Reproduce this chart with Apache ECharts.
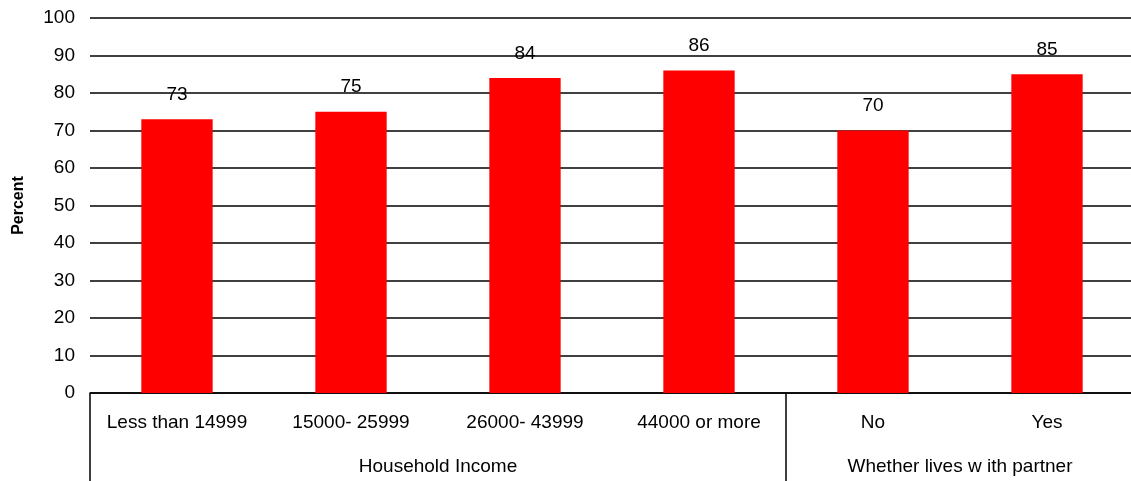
<!DOCTYPE html>
<html>
<head>
<meta charset="utf-8">
<title>Percent by household income and partner status</title>
<script src="https://cdn.jsdelivr.net/npm/echarts@6/dist/echarts.min.js"></script>
<style>
  html, body { margin: 0; padding: 0; background: #ffffff; }
  #chart { width: 1131px; height: 481px; }
</style>
</head>
<body>
<div id="chart"></div>
<script>
// Sub-categories along the bottom axis
const categories = ['Less than 14999', '15000- 25999', '26000- 43999', '44000 or more', 'No', 'Yes'];
// Percent for each sub-category
const values = [73, 75, 84, 86, 70, 85];
// Grouping row beneath the sub-categories
const groupNames = ['Household Income', 'Whether lives w ith partner'];
const groupSizes = [4, 2];
// Y-axis range and step
const yMin = 0, yMax = 100, yStep = 10;

// Group boundaries and centres, in category units
const groupEdges = [0];
groupSizes.forEach(n => groupEdges.push(groupEdges[groupEdges.length - 1] + n));
const groupCentres = groupSizes.map((n, i) => groupEdges[i] + n / 2);

const FONT = '"Liberation Sans", Arial, sans-serif';
const chart = echarts.init(document.getElementById('chart'), null, { renderer: 'canvas' });

chart.setOption({
  animation: false,
  backgroundColor: '#ffffff',
  // plot area runs a little past the right edge of the canvas
  grid: { left: 90, width: 1044, top: 18, bottom: 88, containLabel: false, outerBoundsMode: 'none' },
  xAxis: [
    {
      type: 'category',
      data: categories,
      position: 'bottom',
      axisLine: { show: true, lineStyle: { color: '#000', width: 1.5 } },
      axisTick: { show: false },
      axisLabel: { color: '#000', fontFamily: FONT, fontSize: 19, margin: 20, interval: 0 },
      splitLine: { show: false }
    },
    {
      type: 'value',
      min: 0,
      max: categories.length,
      position: 'bottom',
      axisLine: { show: false },
      // separators before each group; the closing edge lies off the right side
      axisTick: { show: true, customValues: groupEdges.slice(0, -1), length: 90, lineStyle: { color: '#000', width: 1.5 } },
      axisLabel: {
        show: true,
        customValues: groupCentres,
        margin: 64,
        color: '#000', fontFamily: FONT, fontSize: 19,
        formatter: v => groupNames[groupCentres.indexOf(v)] || ''
      },
      splitLine: { show: false }
    }
  ],
  yAxis: {
    type: 'value',
    min: yMin, max: yMax, interval: yStep,
    name: 'Percent',
    nameLocation: 'middle',
    nameRotate: 90,
    nameGap: 63,
    nameTextStyle: { color: '#000', fontFamily: FONT, fontSize: 16, fontWeight: 'bold' },
    axisLine: { show: false },
    axisTick: { show: false },
    axisLabel: { color: '#000', fontFamily: FONT, fontSize: 19, margin: 15 },
    splitLine: { show: true, lineStyle: { color: '#000', width: 1.5 } }
  },
  series: [{
    type: 'bar',
    xAxisIndex: 0,
    data: values,
    barWidth: '41%',
    itemStyle: { color: '#ff0000' },
    label: {
      show: true, position: 'top', distance: 15,
      color: '#000', fontFamily: FONT, fontSize: 19
    },
    z: 3
  }]
});
</script>
</body>
</html>
